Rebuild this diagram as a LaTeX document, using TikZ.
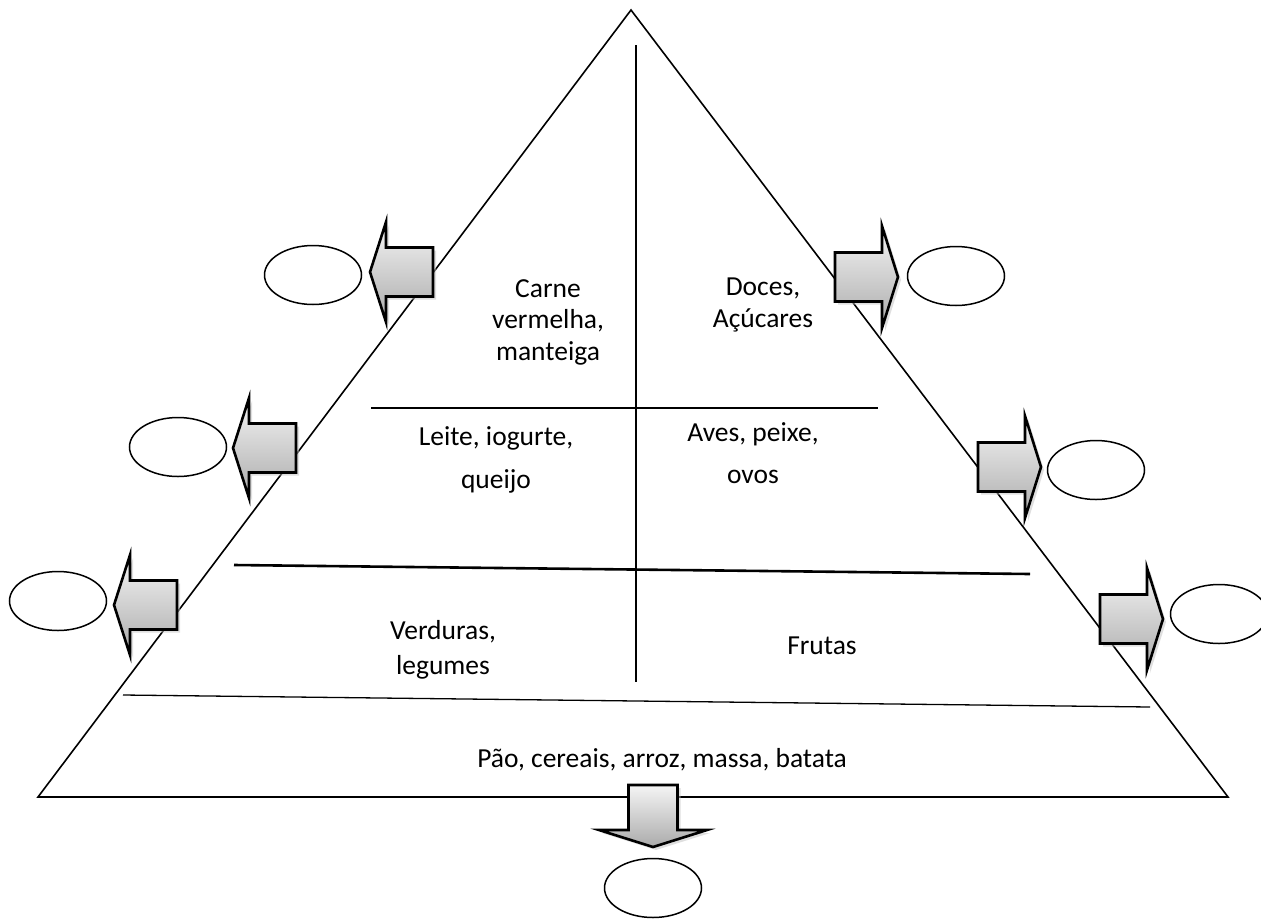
\documentclass[tikz,border=0pt]{standalone}
\usepackage{fontspec}
\setmainfont{Carlito}
\usetikzlibrary{shadows}
\tikzset{
  lbl/.style={align=center, inner sep=0pt, font=\fontsize{27.5}{31.5}\selectfont},
  oval/.style={draw, line width=1.5pt, ellipse, minimum width=97pt, minimum height=59pt, inner sep=0pt},
  blk/.style={draw, line width=2.6pt, line join=miter, top color=black!4, bottom color=black!33,
     drop shadow={shadow xshift=3pt, shadow yshift=-3pt, fill=black!25, opacity=0.5}},
  thin/.style={line width=1.3pt},
  larrow/.pic={\path[blk] (0,0) -- (16,-50) -- (16,-24.5) -- (63,-24.5) -- (63,24.5) -- (16,24.5) -- (16,50) -- cycle;},
  rarrow/.pic={\path[blk] (0,0) -- (-16,-51) -- (-16,-24.5) -- (-63,-24.5) -- (-63,24.5) -- (-16,24.5) -- (-16,51) -- cycle;},
  darrow/.pic={\path[blk] (0,0) -- (-54,-17) -- (-24.5,-17) -- (-24.5,-62) -- (24.5,-62) -- (24.5,-17) -- (54,-17) -- cycle;}
}
\usetikzlibrary{shapes.geometric}
\begin{document}
\begin{tikzpicture}[x=1pt,y=-1pt]
\useasboundingbox (0,0) rectangle (1261,919);
\clip (0,0) rectangle (1261,919);
% pyramid
\coordinate (apex) at (631,10);
\coordinate (bl) at (38,797);
\coordinate (br) at (1228,797);
\draw[line width=1.6pt, line join=miter] (apex) -- (bl) -- (br) -- cycle;
\coordinate (vt) at (636,45);
\coordinate (vb) at (636,682);
\draw[thin] (vt) -- (vb);
\coordinate (h1a) at (371,408); \coordinate (h1b) at (878,408);
\draw[thin] (h1a) -- (h1b);
\coordinate (h2a) at (234,565); \coordinate (h2b) at (1030,574);
\draw[line width=2.6pt] (h2a) -- (h2b);
\coordinate (h3a) at (123,695); \coordinate (h3b) at (1150,707);
\draw[thin] (h3a) -- (h3b);
% labels
\node[lbl] (carne) at (548,322) {Carne\\vermelha,\\manteiga};
\node[lbl] (doces) at (763,305) {Doces,\\Açúcares};
\node[lbl] (leite) at (496,460) {Leite, iogurte,\\[12pt]queijo};
\node[lbl] (aves) at (753,453) {Aves, peixe,\\[10pt]ovos};
\node[lbl] (verd) at (443,650) {Verduras,\\[4pt]legumes};
\node[lbl] (frut) at (822,646) {Frutas};
\node[lbl] (pao) at (662,760) {Pão, cereais, arroz, massa, batata};
% arrows
\pic at (370,272) {larrow};
\pic at (233,448) {larrow};
\pic at (114,605) {larrow};
\pic at (898,277) {rarrow};
\pic at (1041,467) {rarrow};
\pic at (1163,619) {rarrow};
\pic at (653,847) {darrow};
% ovals
\node[oval] (o1) at (313,275) {};
\node[oval] (o2) at (178,447) {};
\node[oval] (o3) at (58,601) {};
\node[oval] (o4) at (956,276) {};
\node[oval] (o5) at (1096,470) {};
\node[oval] (o6) at (1219,614) {};
\node[oval] (o7) at (653,888) {};
\end{tikzpicture}
\end{document}
